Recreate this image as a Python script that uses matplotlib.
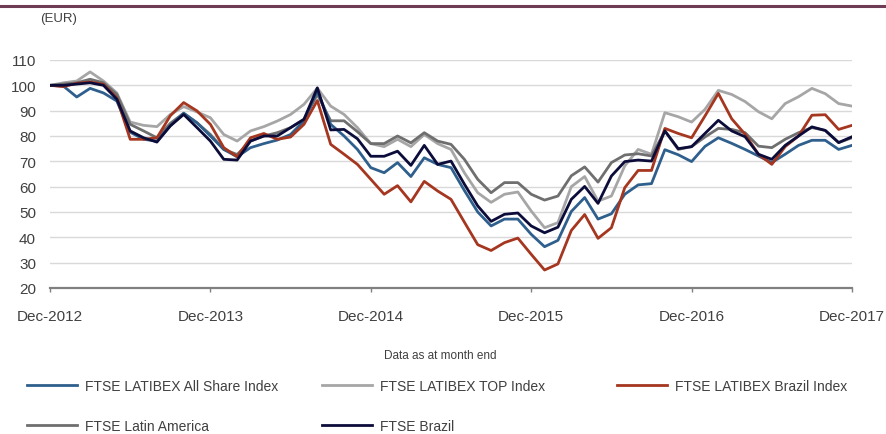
import numpy as np
import matplotlib
matplotlib.use('Agg')
import matplotlib.pyplot as plt
from matplotlib.lines import Line2D

plt.rcParams['font.family'] = ['Liberation Sans', 'DejaVu Sans']

# Monthly index levels (EUR, rebased to 100 at Dec-2012)
months = np.arange(61)
tick_labels = ['Dec-2012', 'Dec-2013', 'Dec-2014', 'Dec-2015', 'Dec-2016', 'Dec-2017']

all_share = [100, 99.7, 95.4, 98.8, 97, 93.8, 81.5, 78.7, 78, 84, 89,
             85.2, 80, 74.7, 71.8, 75.4, 77, 78.4, 80.6, 86, 97.8,
             84.6, 80, 74.7, 67.5, 65.5, 69.5, 64, 71.4, 68.8, 67.5,
             58.5, 50, 44.5, 47.2, 47.2, 41.2, 36.3, 38.8, 50.2, 55.7,
             47.2, 49.3, 57, 60.7, 61.2, 74.6, 72.6, 69.9, 75.9, 79.3,
             77.1, 74.7, 72.1, 69.5, 72.8, 76.3, 78.3, 78.3, 74.7, 76.3]

top_index = [100, 101, 101.7, 105.3, 101.7, 97, 85.5, 84.2, 83.7, 88.5, 91.6,
             89.5, 87.2, 80.6, 78, 82, 83.7, 85.9, 88.5, 92.5, 98.9,
             91.8, 88.5, 83.3, 77, 75.8, 78.7, 75.8, 80.6, 77, 74.7,
             65.5, 57.6, 53.8, 57, 57.9, 50.4, 43.8, 45.8, 60, 64,
             54.3, 56.3, 68.2, 74.7, 72.8, 89.2, 87.6, 85.5, 90.5, 98,
             96.4, 93.6, 89.6, 86.8, 92.8, 95.5, 98.8, 96.7, 92.8, 91.8]

brazil_index = [100, 99.5, 100.8, 101.3, 100.4, 95, 78.7, 78.7, 79.3, 88, 93.2,
                89.9, 84.6, 75.4, 71.8, 79.3, 81, 78.7, 79.6, 84.6, 94,
                76.7, 72.8, 68.8, 62.9, 57, 60.4, 54, 62.1, 58.3, 55,
                46, 37.1, 34.8, 37.9, 39.7, 33.3, 27.1, 29.5, 42.7, 49,
                39.6, 43.8, 59.6, 66.4, 66.4, 83, 81, 79.3, 87.9, 96.8,
                86.8, 80.7, 72.8, 68.8, 75.8, 80, 88.2, 88.4, 82.6, 84.2]

latin_america = [100, 100.5, 101, 102.4, 101, 96.4, 84.6, 82, 79.3, 85, 89,
                 85.2, 80.6, 74.7, 72.7, 78, 80, 81.3, 83.3, 86.6, 96.4,
                 86, 86, 81.7, 77, 77, 80, 77.3, 81.3, 78, 76.7,
                 70.8, 62.9, 57.6, 61.6, 61.6, 57, 54.7, 56.3, 64.3, 67.8,
                 61.8, 69.5, 72.5, 73, 72.1, 82, 74.7, 75.8, 79.6, 83,
                 82.6, 81.3, 76, 75.4, 78.7, 81.3, 83.3, 82.2, 77.4, 79.3]

ftse_brazil = [100, 100, 100.5, 101, 100, 94.5, 82, 79.3, 77.6, 84, 88.5,
               83.3, 78, 70.8, 70.5, 78, 80, 80, 83.3, 86.6, 99,
               82.4, 82.6, 78.9, 72, 72, 74, 68.4, 76.3, 68.8, 70.1,
               61, 52.4, 46.3, 49.1, 49.6, 44.5, 41.8, 44, 55, 60.1,
               53.4, 64.2, 69.9, 70.5, 70.1, 82, 75, 75.8, 81, 86.2,
               82, 79.7, 72.8, 70.8, 76.3, 80, 83.6, 82.2, 77.4, 79.7]

text_color = '#404040'

fig = plt.figure(figsize=(8.87, 4.35), dpi=100)
ax = fig.add_axes([50 / 887, 1 - 289 / 435, 802 / 887, 228 / 435])

lw = 2.0
l_all, = ax.plot(months, all_share, color='#2f5f8c', lw=lw, label='FTSE LATIBEX All Share Index')
l_top, = ax.plot(months, top_index, color='#a6a6a6', lw=lw, label='FTSE LATIBEX TOP Index')
l_bra, = ax.plot(months, brazil_index, color='#a5361f', lw=lw, label='FTSE LATIBEX Brazil Index')
l_lat, = ax.plot(months, latin_america, color='#6f6f6f', lw=lw, label='FTSE Latin America')
l_fb, = ax.plot(months, ftse_brazil, color='#0c0c3a', lw=lw, label='FTSE Brazil')

# plot order: latin america and top underneath the others
l_top.set_zorder(2)
l_lat.set_zorder(2.1)
l_all.set_zorder(2.2)
l_bra.set_zorder(2.3)
l_fb.set_zorder(2.4)

ax.set_xlim(0, 60)
ax.set_ylim(20, 110)
ax.set_yticks(np.arange(20, 111, 10))
ax.set_xticks(np.arange(0, 61, 12))
ax.set_xticklabels(tick_labels)
ax.grid(axis='y', color='#d9d9d9', lw=1)
ax.set_axisbelow(True)
for s in ['left', 'right', 'top']:
    ax.spines[s].set_visible(False)
ax.spines['bottom'].set_color('#808080')
ax.spines['bottom'].set_linewidth(1.6)
ax.tick_params(axis='y', length=0, pad=10, labelsize=11, labelcolor=text_color)
ax.tick_params(axis='x', length=3, width=1, color='#808080', pad=12,
               labelsize=11, labelcolor=text_color)

fig.text(40 / 887, 1 - 19 / 435, '(EUR)', fontsize=9.5, color=text_color, va='center')
fig.text(440 / 887, 1 - 356 / 435, 'Data as at month end', fontsize=8.5,
         color=text_color, ha='center', va='center')

# thin rule at the top of the page
fig.add_artist(Line2D([0, 1], [1 - 6.5 / 435, 1 - 6.5 / 435], color='#6e3d55', lw=2.2))

# legend, three columns
cols = [([l_all, l_lat], 27), ([l_top, l_fb], 322), ([l_bra], 617)]
for handles, x0 in cols:
    fig.legend(handles=handles, loc='upper left', bbox_to_anchor=(x0 / 887, 1 - 380 / 435),
               frameon=False, fontsize=10, handlelength=3.6, handletextpad=0.6,
               labelspacing=1.85, borderpad=0, borderaxespad=0, labelcolor=text_color)

fig.savefig('out.png', dpi=100)
